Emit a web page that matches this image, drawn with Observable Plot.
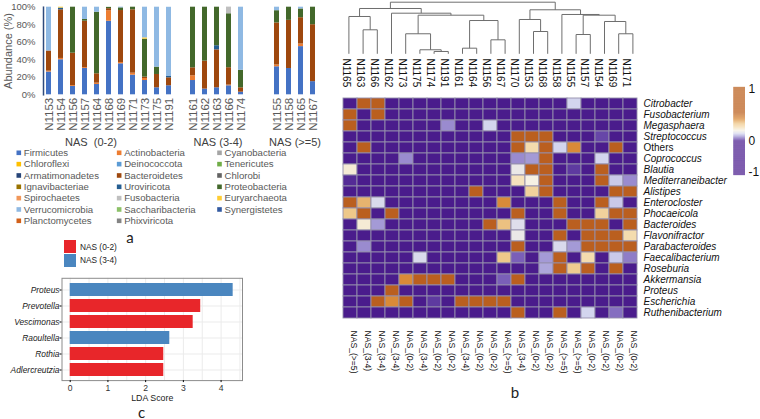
<!DOCTYPE html>
<html><head><meta charset="utf-8">
<script src="https://cdn.jsdelivr.net/npm/d3@7"></script>
<script src="https://cdn.jsdelivr.net/npm/@observablehq/plot@0.6"></script>
<style>
body{margin:0;background:#fff;}
#root{position:relative;width:760px;height:419px;overflow:hidden;font-family:"Liberation Sans",Arial,sans-serif;}
.letter{position:absolute;font-family:Lato,"Open Sans",sans-serif;font-size:15px;line-height:1;color:#222;transform:translate(-50%,-50%);}
.leg{position:absolute;font-size:8.3px;color:#222;}
</style></head><body><div id="root"></div>
<script>
// ---------- DATA: panel a (stacked phylum abundance) ----------
const phyla = ["Firmicutes","Actinobacteria","Cyanobacteria","Chloroflexi","Deinococcota","Tenericutes","Armatimonadetes","Bacteroidetes","Chlorobi","Ignavibacteriae","Uroviricota","Proteobacteria","Spirochaetes","Fusobacteria","Euryarchaeota","Verrucomicrobia","Saccharibacteria","Synergistetes","Planctomycetes","Phixviricota"];
const phylumColors = ["#4472C4","#ED7D31","#A5A5A5","#FFC000","#5B9BD5","#70AD47","#264478","#9E480E","#636363","#997300","#255E91","#43682B","#F1975A","#BFBFBF","#FFCD33","#8FB9E3","#8CC168","#335AA1","#D2601A","#848484"];
const groupNames = ["NAS  (0-2)","NAS (3-4)","NAS (>=5)"];
const groupSamples = [
  ["N1153","N1154","N1156","N1157","N1164","N1168","N1169","N1171","N1173","N1175","N1191"],
  ["N1161","N1162","N1163","N1166","N1174"],
  ["N1155","N1158","N1165","N1167"]
];
const samplesA = groupSamples.flat();
const firmicutes      = [26,40,9.5,30,11.8,84,35.4,22.4,16.3,8,10.3, 16.3,6.5,8,10.3,3, 32,30,55,15];
const actinobacteria  = [1,1.5,1,1,1.5,12,1.5,2.3,2.3,0,0, 5.4,0,0,0.8,0, 2,0,3,0];
const bacteroidetes   = [23,55.5,37,53,10.7,2.3,59.3,72.3,1.6,15.2,9.1, 9.1,31.9,43.3,19.8,5, 48,55,30,65];
const uroviricota     = [0,2,0,0,0,0,0,0,0,0,1.5, 0,0,4.7,0,0, 0,0,0,0];
const proteobacteria  = [0,0,52.5,2,70.3,1.5,3,3,43.3,8.4,0, 69.2,61.6,44,61.6,20, 14,15,10,20];
const fusobacteria    = [0,0,0,0,0,0,0,0,0,0,0, 0,0,0,7.6,0, 0,0,0,0];
const euryarchaeota   = [0,1,0,0,0,0,0,0,1.5,0,0, 0,0,0,0,0, 0,0,0,0];
const verrucomicrobia = [50,0,0,14,5.7,0,0.8,0,35,68.4,79, 0,0,0,0,72, 4,0,2,0];
const yTicksA = [0,20,40,60,80,100];
const yLabelA = "Abundance (%)";

// ---------- DATA: panel c (LDA) ----------
const ldaTaxa   = ["Proteus","Prevotella","Vescimonas","Raoultella","Rothia","Adlercreutzia"];
const ldaScores = [4.32,3.46,3.26,2.64,2.48,2.48];
const ldaGroups = ["NAS (3-4)","NAS (0-2)","NAS (0-2)","NAS (3-4)","NAS (0-2)","NAS (0-2)"];
const ldaLegend = ["NAS (0-2)","NAS (3-4)"];
const ldaColors = ["#E8262A","#4A86BF"];
const ldaTicks  = [0,1,2,3,4];
const ldaXLabel = "LDA Score";

// ---------- DATA: panel b (heatmap) ----------
const hmCols = ["N1165","N1163","N1166","N1162","N1173","N1175","N1174","N1191","N1161","N1164","N1156","N1167","N1170","N1153","N1168","N1158","N1155","N1157","N1154","N1169","N1171"];
const hmColGroups = ["NAS_(>=5)","NAS_(3-4)","NAS_(3-4)","NAS_(3-4)","NAS_(0-2)","NAS_(3-4)","NAS_(0-2)","NAS_(0-2)","NAS_(3-4)","NAS_(0-2)","NAS_(0-2)","NAS_(>=5)","NAS_(3-4)","NAS_(0-2)","NAS_(0-2)","NAS_(>=5)","NAS_(>=5)","NAS_(0-2)","NAS_(0-2)","NAS_(0-2)","NAS_(0-2)"];
const hmRows = ["Citrobacter","Fusobacterium","Megasphaera","Streptococcus","Others","Coprococcus","Blautia","Mediterraneibacter","Alistipes","Enterocloster","Phocaeicola","Bacteroides","Flavonifractor","Parabacteroides","Faecalibacterium","Roseburia","Akkermansia","Proteus","Escherichia","Ruthenibacterium"];
const hmPlainRows = ["Others"];
const hmValues = [
 [-1,1,1,-1,-1,-1,-1,-1,-1,-1,-1,-1,-1,-1,-1,-1,0.14,-1,-1,-1,-1],
 [1,-1,1,-1,-1,-1,-1,-1,-1,-1,-1,-1,-1,-1,-1,-1,-1,-1,-1,-1,-1],
 [1,-1,-1,-1,-1,-1,-1,0.08,-1,-1,0.14,-1,-1,-1,-1,-1,-1,-1,-1,-1,-1],
 [-1,-1,-1,-1,-1,-1,-1,-1,-1,-1,-1,-1,1,1,1,-1,-1,-1,0.03,-1,-1],
 [-1,1,-1,-1,-1,-1,-1,-1,-1,-1,-1,-1,1,0.27,1,0.14,0.42,-1,-1,1,-1],
 [-1,-1,-1,-1,0.08,-1,-1,-1,-1,-1,-1,-1,0.08,0.09,1,-1,-1,-1,0.14,-1,-1],
 [0.22,-1,-1,-1,-1,-1,-1,-1,-1,-1,-1,-1,0.18,1,1,-1,0.02,-1,1,-1,-1],
 [0.01,-1,-1,-1,-1,-1,-1,-1,-1,-1,-1,-1,0.25,0.2,1,-1,-1,-1,1,0.13,0.08],
 [-1,-1,-1,-1,-1,-1,-1,-1,-1,1,-1,-1,-1,0.3,1,-1,-1,-1,-1,1,1],
 [1,0.36,0.15,-1,-1,-1,-1,-1,-1,-1,-1,0.42,-1,-1,-1,1,-1,-1,1,0.13,-1],
 [0.33,1,-1,1,-1,-1,-1,-1,-1,-1,-1,-1,1,-1,-1,1,-1,-1,0.3,1,1],
 [-1,0.22,0.09,-1,-1,-1,-1,-1,-1,-1,1,0.34,0.16,-1,-1,-1,1,1,1,-1,1],
 [-1,-1,-1,-1,-1,-1,-1,-1,-1,-1,-1,-1,0.18,-1,-1,1,-1,1,1,1,0.27],
 [-1,0.08,-1,-1,-1,-1,-1,-1,-1,-1,-1,-1,1,-1,-1,0.15,0.09,1,1,1,1],
 [-1,-1,-1,-1,-1,0.15,-1,-1,-1,-1,-1,0.33,0.05,-1,0.09,1,-1,0.27,-1,0.13,0.07],
 [-1,-1,-1,-1,-1,-1,-1,-1,-1,-1,-1,-1,-1,-1,0.1,1,0.32,1,-1,1,-1],
 [-1,-1,-1,-1,0.42,1,1,1,-1,-1,-1,0.05,1,-1,-1,-1,-1,-1,-1,-1,-1],
 [-1,-1,-1,1,-1,-1,-1,-1,-1,-1,-1,-1,-1,-1,-1,-1,-1,-1,-1,-1,-1],
 [-1,-1,1,0.42,1,-1,0.02,-1,1,1,1,1,-1,-1,-1,-1,-1,-1,-1,-1,-1],
 [-1,-1,-1,-1,-1,-1,-1,-1,-1,-1,-1,-1,1,-1,-1,1,-1,0.14,-1,0.06,-1]
];
// dendrogram merges: [childA, childB, height, id]
const merges = [
 ["N1163","N1166",0.465,"m1"],["N1165","m1",0.723,"m2"],
 ["N1174","N1191",0.045,"m3"],["N1175","m3",0.078,"m4"],["N1173","m4",0.388,"m5"],
 ["N1161","N1164",0.109,"m6"],["N1156","N1167",0.271,"m7"],["m6","m7",0.645,"m8"],
 ["m5","m8",0.748,"m9"],["N1162","m9",0.787,"m10"],["m2","m10",0.878,"m11"],
 ["N1153","N1168",0.432,"m12"],["N1170","m12",0.665,"m13"],
 ["N1155","N1157",0.374,"m14"],["N1169","N1171",0.388,"m15"],["N1154","m15",0.626,"m16"],
 ["m14","m16",0.748,"m17"],["N1158","m17",0.762,"m18"],["m13","m18",0.853,"m19"],
 ["m11","m19",1.0,"root"]
];
const cbTicks = [1,0,-1];

// ---------- helpers ----------
const root = document.getElementById("root");
function place(node, left, top){ node.style.position="absolute"; node.style.left=left+"px"; node.style.top=top+"px"; root.appendChild(node); }
const FONT = "Liberation Sans, Arial, sans-serif";

// ---------- panel a: stacked bars ----------
const abundance = {Firmicutes:firmicutes, Actinobacteria:actinobacteria, Bacteroidetes:bacteroidetes, Uroviricota:uroviricota, Proteobacteria:proteobacteria, Fusobacteria:fusobacteria, Euryarchaeota:euryarchaeota, Verrucomicrobia:verrucomicrobia};
const stackData = [];
phyla.forEach(p => { const arr = abundance[p]; if (!arr) return; samplesA.forEach((s,i) => { if (arr[i] > 0) stackData.push({sample:s, phylum:p, value:arr[i]}); }); });
const slots = [...groupSamples[0], "_g1", ...groupSamples[1], "_g2", "_g3", ...groupSamples[2]];
const plotA = Plot.plot({
  width: 330, height: 150, marginLeft: 43, marginTop: 6.7, marginBottom: 55.7, marginRight: 11,
  style: {fontFamily: FONT, background: "transparent", color: "#595959"},
  x: {domain: slots, paddingInner: 0.58, paddingOuter: 0.29, axis: null},
  y: {domain: [0,100], axis: null},
  color: {domain: phyla, range: phylumColors},
  marks: [
    Plot.barY(stackData, {x: "sample", y: "value", fill: "phylum"}),
    Plot.axisY(yTicksA, {tickFormat: d => d + "%", tickSize: 0, tickPadding: 8, fontSize: 9.5, label: null}),
    Plot.text([yLabelA], {frameAnchor: "left", textAnchor: "middle", rotate: -90, dx: -35, fontSize: 11}),
    Plot.axisX({tickRotate: -90, tickSize: 0, tickPadding: 3, fontSize: 11.5, label: null, tickFormat: d => d.startsWith("_") ? "" : d}),
    Plot.frame({anchor: "left", stroke: "#2f4b7c", strokeWidth: 1.5}),
    Plot.text([groupNames[0]], {x: ["N1164"], frameAnchor: "bottom", lineAnchor: "middle", dy: 47.4, dx: -6, fontSize: 11, fill: "#404040"}),
    Plot.text([groupNames[1]], {x: ["N1163"], frameAnchor: "bottom", lineAnchor: "middle", dy: 47.4, dx: 1, fontSize: 11, fill: "#404040"}),
    Plot.text([groupNames[2]], {x: ["N1165"], frameAnchor: "bottom", lineAnchor: "middle", dy: 47.4, dx: -6, fontSize: 11, fill: "#404040"})
  ]
});
place(plotA, 0, 0);

// legend for panel a
const legData = phyla.map((p,i) => ({p, col: i % 3, row: Math.floor(i / 3)}));
const legA = Plot.plot({
  width: 330, height: 85, margin: 0,
  style: {fontFamily: FONT, background: "transparent"},
  x: {type: "linear", domain: [0,2], range: [18.3, 219], axis: null},
  y: {type: "linear", domain: [0,6], range: [7.3, 75.3], axis: null},
  color: {domain: phyla, range: phylumColors},
  marks: [
    Plot.dot(legData, {x: "col", y: "row", symbol: "square", r: 2.6, fill: "p"}),
    Plot.text(legData, {x: "col", y: "row", text: "p", dx: 5, textAnchor: "start", fontSize: 9.6, fill: "#595959"})
  ]
});
place(legA, 0, 145);

// ---------- panel c: LDA ----------
const lda = ldaTaxa.map((t,i) => ({taxon: t, score: ldaScores[i], group: ldaGroups[i]}));
const plotC = Plot.plot({
  width: 250, height: 149, marginLeft: 61.5, marginRight: 8, marginTop: 7.8, marginBottom: 38.9,
  style: {fontFamily: FONT, background: "transparent"},
  x: {domain: [-0.2175, 4.5675], axis: null},
  y: {domain: ldaTaxa, paddingInner: 0.2, paddingOuter: 0.2, axis: null},
  color: {domain: ldaLegend, range: ldaColors},
  marks: [
    Plot.ruleX(d3.range(0, 4.51, 0.5), {stroke: "#ebebeb"}),
    Plot.ruleY(ldaTaxa, {stroke: "#ebebeb"}),
    Plot.barX(lda, {x: "score", y: "taxon", fill: "group"}),
    Plot.frame({stroke: "#8c8c8c"}),
    Plot.axisX(ldaTicks, {tickFormat: d => String(d), tickSize: 2, tickPadding: 2, fontSize: 8.6, label: null, fill: "#333"}),
    Plot.axisY({tickSize: 2, tickPadding: 0.5, fontSize: 8.4, fontStyle: "italic", label: null, fill: "#222"}),
    Plot.text([ldaXLabel], {frameAnchor: "bottom", lineAnchor: "middle", dy: 17.5, fontSize: 8.8, fill: "#222"})
  ]
});
place(plotC, 0, 270);

// legend for panel c
ldaLegend.forEach((g,i) => {
  const sw = document.createElement("div");
  sw.style.width = "11.7px"; sw.style.height = "13px"; sw.style.background = ldaColors[i];
  place(sw, 64.3, 240 + i*13.5);
  const lb = document.createElement("div"); lb.className = "leg"; lb.textContent = g;
  place(lb, 80, 241.5 + i*13.5);
});

// ---------- panel b: dendrogram ----------
const node = new Map(hmCols.map((c,i) => [c, {x: i, h: 0}]));
const segs = [];
merges.forEach(([a,b,h,id]) => {
  const A = node.get(a), B = node.get(b);
  segs.push({x1: A.x, y1: A.h, x2: A.x, y2: h});
  segs.push({x1: B.x, y1: B.h, x2: B.x, y2: h});
  segs.push({x1: A.x, y1: h, x2: B.x, y2: h});
  node.set(id, {x: (A.x + B.x)/2, h});
});
const dendro = Plot.plot({
  width: 440, height: 56, marginLeft: 21.3, marginRight: 120.5, marginTop: 1.7, marginBottom: 2.7,
  style: {background: "transparent"},
  x: {domain: [-0.5, hmCols.length - 0.5], axis: null},
  y: {domain: [0, 1], axis: null},
  marks: [Plot.link(segs, {x1: "x1", y1: "y1", x2: "x2", y2: "y2", stroke: "#6e6e6e", strokeWidth: 1})]
});
place(dendro, 320, 0);

// ---------- panel b: heatmap ----------
const cells = [];
hmRows.forEach((r,i) => hmCols.forEach((c,j) => cells.push({row: r, col: c, v: hmValues[i][j]})));
const colorDomain = [-1, 0, 0.02, 0.05, 0.09, 0.14, 0.2, 0.27, 0.33, 0.42, 0.55, 1];
const colorRange  = ["#4a1c8c","#4a1c8c","#5e3aa0","#7a5fb8","#a49ad6","#d3d5ee","#f6f1e4","#f4dcae","#eec88a","#d98a38","#ba5f1f","#ba5f1f"];
const heat = Plot.plot({
  width: 440, height: 330, marginLeft: 21.3, marginRight: 120.5, marginTop: 34.7, marginBottom: 60,
  style: {fontFamily: FONT, background: "transparent"},
  x: {domain: hmCols, padding: 0, axis: null},
  y: {domain: hmRows, padding: 0, axis: null},
  color: {type: "linear", domain: colorDomain, range: colorRange},
  marks: [
    Plot.cell(cells, {x: "col", y: "row", fill: "v", stroke: "#948fab", strokeWidth: 0.9, inset: 0}),
    Plot.text(hmCols, {x: d => d, frameAnchor: "top", rotate: 90, textAnchor: "end", dy: -4, fontSize: 10, fill: "#111"}),
    Plot.text(hmCols, {x: d => d, text: (d,i) => hmColGroups[i], frameAnchor: "bottom", rotate: 90, textAnchor: "start", dy: 4, fontSize: 8.6, fill: "#111"}),
    Plot.text(hmRows.filter(r => !hmPlainRows.includes(r)), {y: d => d, frameAnchor: "right", dx: 3.5, textAnchor: "start", fontStyle: "italic", fontSize: 10, fill: "#111"}),
    Plot.text(hmPlainRows, {y: d => d, frameAnchor: "right", dx: 3.5, textAnchor: "start", fontSize: 10, fill: "#111"})
  ]
});
place(heat, 320, 56);

// ---------- colorbar ----------
const cbSteps = d3.range(-1.1, 1.04, 0.005);
const cbShrink = v => v >= 0 ? v : v * 31 / 52;   // lower half of the bar is drawn shorter
const cbar = Plot.plot({
  width: 40, height: 100, marginTop: 6.9, marginBottom: 4.9, marginLeft: 13.3, marginRight: 15,
  style: {fontFamily: FONT, background: "transparent"},
  x: {domain: [0,1], axis: null},
  y: {transform: cbShrink, domain: [cbShrink(-1.1), 1.04], axis: null},
  color: {type: "linear", domain: colorDomain, range: colorRange},
  marks: [
    Plot.rect(cbSteps, {x1: 0, x2: 1, y1: d => d, y2: d => d + 0.0055, fill: d => d}),
    Plot.text(cbTicks, {x: 1, y: d => d, dx: 3, textAnchor: "start", fontSize: 12, fill: "#111"})
  ]
});
place(cbar, 720, 80);

// ---------- panel letters ----------
[["a",130,237],["b",515,392],["c",141.7,411.5]].forEach(([t,x,y]) => {
  const d = document.createElement("div"); d.className = "letter"; d.textContent = t;
  d.style.left = x + "px"; d.style.top = y + "px"; root.appendChild(d);
});
</script></body></html>
